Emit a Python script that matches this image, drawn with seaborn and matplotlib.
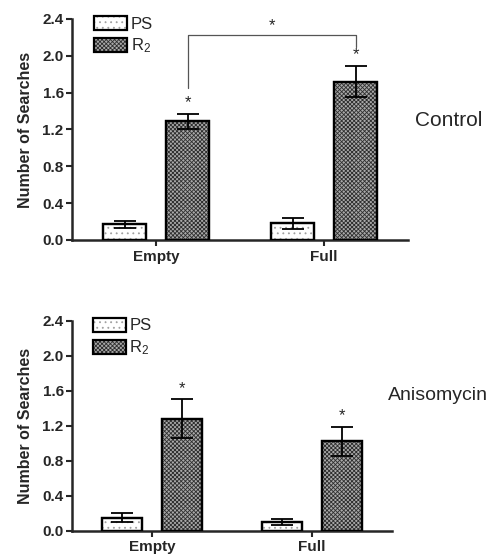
import numpy as np
import pandas as pd
import seaborn as sns
import matplotlib.pyplot as plt
from matplotlib.patches import Patch, Rectangle

conditions = ["Empty", "Full"]
groups = ["PS", "R2"]

# Control
control_ps = [0.17, 0.18]
control_ps_err = [0.04, 0.06]
control_r2 = [1.29, 1.72]
control_r2_err = [0.08, 0.17]

# Anisomycin
aniso_ps = [0.15, 0.10]
aniso_ps_err = [0.05, 0.03]
aniso_r2 = [1.28, 1.02]
aniso_r2_err = [0.22, 0.17]

yticks = [0.0, 0.4, 0.8, 1.2, 1.6, 2.0, 2.4]

sns.set_theme(style="ticks")
plt.rcParams['font.family'] = ['Liberation Sans', 'DejaVu Sans']
plt.rcParams['hatch.linewidth'] = 0.6

face = {"PS": "white", "R2": "#a9a9a9"}
hatch = {"PS": "...", "R2": "xxxxxxxx"}
hcol = {"PS": "#a0a0a0", "R2": "#2e2e2e"}


def make_df(ps, r2):
    rows = []
    for i, c in enumerate(conditions):
        rows.append({"condition": c, "group": "PS", "searches": ps[i]})
        rows.append({"condition": c, "group": "R2", "searches": r2[i]})
    return pd.DataFrame(rows)


def draw_panel(ax, ps, ps_err, r2, r2_err):
    df = make_df(ps, r2)
    sns.barplot(data=df, x="condition", y="searches", hue="group",
                order=conditions, hue_order=groups, palette=face,
                width=0.75, gap=0.32, errorbar=None, legend=False,
                edgecolor="black", linewidth=1.6, ax=ax, zorder=3)
    errs = {"PS": ps_err, "R2": r2_err}
    centers = {}
    for g, cont in zip(groups, ax.containers):
        xs = []
        tops = []
        for bar in cont:
            # texture layer under the black outline
            ax.add_patch(Rectangle((bar.get_x(), 0), bar.get_width(),
                                   bar.get_height(), facecolor="none",
                                   edgecolor=hcol[g], hatch=hatch[g],
                                   linewidth=0, zorder=3.5))
            ax.add_patch(Rectangle((bar.get_x(), 0), bar.get_width(),
                                   bar.get_height(), facecolor="none",
                                   edgecolor="black", linewidth=1.6, zorder=4))
            xs.append(bar.get_x() + bar.get_width() / 2)
            tops.append(bar.get_height())
        ax.errorbar(xs, tops, yerr=errs[g], fmt="none", ecolor="black",
                    elinewidth=1.3, capsize=8, capthick=1.3, zorder=5)
        centers[g] = (xs, tops)
    ax.set_ylim(0, 2.4)
    ax.set_xlim(-0.5, 1.5)
    ax.set_yticks(yticks)
    ax.set_yticklabels([f"{v:.1f}" for v in yticks], fontweight="bold",
                       fontsize=11)
    ax.set_xticks([0, 1])
    ax.set_xticklabels(conditions, fontweight="bold", fontsize=11)
    ax.set_xlabel("")
    ax.set_ylabel("Number of Searches", fontweight="bold", fontsize=11.5,
                  labelpad=7)
    ax.tick_params(axis="y", length=4, width=1.5, pad=2)
    ax.tick_params(axis="x", length=4, width=1.5, pad=3)
    for s in ["left", "bottom"]:
        ax.spines[s].set_linewidth(1.8)
    sns.despine(ax=ax)
    ps_h = (Patch(facecolor="white", edgecolor=hcol["PS"], hatch=hatch["PS"], linewidth=0),
            Patch(facecolor="none", edgecolor="black", linewidth=1.6))
    r2_h = (Patch(facecolor=face["R2"], edgecolor=hcol["R2"], hatch=hatch["R2"], linewidth=0),
            Patch(facecolor="none", edgecolor="black", linewidth=1.6))
    ax.legend([ps_h, r2_h], ["PS", r"$\mathregular{R_2}$"],
              loc="upper left", bbox_to_anchor=(0.065, 1.015), frameon=False,
              fontsize=12, handlelength=2.0, handleheight=0.95,
              borderpad=0, borderaxespad=0, handletextpad=0.2,
              labelspacing=0.3)
    return centers


fig = plt.figure(figsize=(4.9, 5.54), dpi=100)
ax_top = fig.add_axes([0.147, 0.5668, 0.686, 0.399])
ax_bot = fig.add_axes([0.147, 0.0421, 0.653, 0.379])

c_top = draw_panel(ax_top, control_ps, control_ps_err, control_r2, control_r2_err)
c_bot = draw_panel(ax_bot, aniso_ps, aniso_ps_err, aniso_r2, aniso_r2_err)

# significance stars over R2 bars
for ax, cen, err in [(ax_top, c_top, control_r2_err), (ax_bot, c_bot, aniso_r2_err)]:
    xs, tops = cen["R2"]
    for x, t, e in zip(xs, tops, err):
        ax.text(x, t + e + 0.04, "*", ha="center", va="bottom", fontsize=12)

# bracket between Empty and Full R2 in the control panel
xs, tops = c_top["R2"]
yb = 2.23
ax_top.plot([xs[0], xs[0], xs[1], xs[1]],
            [tops[0] + control_r2_err[0] + 0.28, yb, yb, tops[1] + control_r2_err[1] + 0.20],
            color="#555555", linewidth=0.9, clip_on=False, zorder=6)
ax_top.text((xs[0] + xs[1]) / 2, yb + 0.02, "*", ha="center", va="bottom",
            fontsize=12)

fig.text(0.846, 0.783, "Control", fontsize=15, va="center", ha="left")
fig.text(0.791, 0.287, "Anisomycin", fontsize=14, va="center", ha="left")

fig.savefig("out.png", dpi=100)
